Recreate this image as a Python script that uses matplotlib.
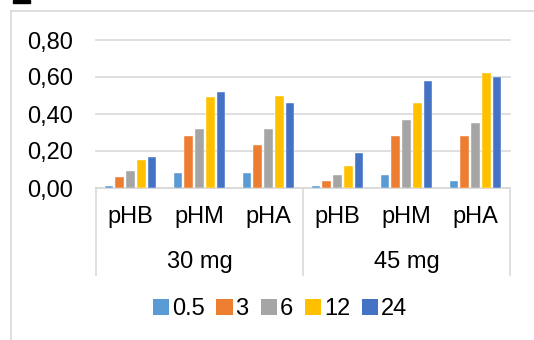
import matplotlib
matplotlib.use("Agg")
import matplotlib.pyplot as plt
import matplotlib.transforms as mtransforms
from matplotlib.patches import Rectangle
from matplotlib.lines import Line2D
import numpy as np

plt.rcParams['font.family'] = ['Liberation Sans', 'DejaVu Sans']

groups = ["30 mg", "45 mg"]
categories = ["pHB", "pHM", "pHA", "pHB", "pHM", "pHA"]
series_names = ["0.5", "3", "6", "12", "24"]
values = {
    "0.5": [0.01, 0.08, 0.08, 0.01, 0.07, 0.04],
    "3":   [0.06, 0.28, 0.23, 0.04, 0.28, 0.28],
    "6":   [0.09, 0.32, 0.32, 0.07, 0.37, 0.35],
    "12":  [0.15, 0.49, 0.50, 0.12, 0.46, 0.62],
    "24":  [0.17, 0.52, 0.46, 0.19, 0.58, 0.60],
}
colors = ["#5B9BD5", "#ED7D31", "#A5A5A5", "#FFC000", "#4472C4"]
yticks = [0.0, 0.2, 0.4, 0.6, 0.8]
ytick_labels = ["0,00", "0,20", "0,40", "0,60", "0,80"]

FS = 17
W, H = 534, 340
fig = plt.figure(figsize=(W / 100, H / 100), dpi=100)

# outer chart border and small black mark
fig.add_artist(Line2D([11 / W, 11 / W], [0, 1 - 11 / H], color="#D9D9D9", lw=1.2, transform=fig.transFigure))
fig.add_artist(Line2D([11 / W, 1], [1 - 11 / H, 1 - 11 / H], color="#D9D9D9", lw=1.2, transform=fig.transFigure))
fig.add_artist(Rectangle((13 / W, 1 - 3 / H), 17 / W, 3 / H, color="black", transform=fig.transFigure))

ax_left, ax_right, ax_top, ax_bottom = 96, 510, 40, 188
ax = fig.add_axes([ax_left / W, 1 - ax_bottom / H, (ax_right - ax_left) / W, (ax_bottom - ax_top) / H])

x = np.arange(len(categories))
slot = 0.155
bw = 0.125
for i, (name, c) in enumerate(zip(series_names, colors)):
    ax.bar(x + (i - 2) * slot, values[name], width=bw, color=c, label=name,
           edgecolor="white", linewidth=0.3, zorder=3)

ax.set_xlim(-0.5, len(categories) - 0.5)
ax.set_ylim(0, 0.8)
ax.set_yticks(yticks)
ax.set_yticklabels(ytick_labels)
ax.tick_params(axis="y", length=0, pad=16.5, labelsize=FS, colors="#000000")
ax.set_xticks([])
for s in ["top", "right", "left"]:
    ax.spines[s].set_visible(False)
ax.spines["bottom"].set_color("#D9D9D9")
ax.spines["bottom"].set_linewidth(1.2)
ax.yaxis.grid(True, color="#D9D9D9", lw=1.2, zorder=0)
ax.set_axisbelow(True)
for gl in ax.get_ygridlines():
    gl.set_clip_on(False)

trans = mtransforms.blended_transform_factory(ax.transData, ax.transAxes)
axh = ax_bottom - ax_top
cat_y = -(217 - ax_bottom) / axh
grp_y = -(262 - ax_bottom) / axh
box_bottom = -(275 - ax_bottom) / axh
for xi, lab in zip(x, categories):
    ax.text(xi, cat_y, lab, transform=trans, ha="center", va="center", fontsize=FS)
for gi, g in enumerate(groups):
    ax.text(gi * 3 + 1, grp_y, g, transform=trans, ha="center", va="center", fontsize=FS)
for bx in [-0.5, 2.5, 5.5]:
    ax.plot([bx, bx], [0, box_bottom], transform=trans, color="#D9D9D9", lw=1.2, clip_on=False)

leg = fig.legend(loc="center", bbox_to_anchor=(280 / W, 1 - 309 / H), ncol=5, frameon=False,
                 fontsize=FS, handlelength=0.68, handleheight=0.68, handletextpad=0.13,
                 columnspacing=0.5, borderpad=0)
for h in leg.legend_handles:
    h.set_linewidth(0)

fig.savefig("out.png", dpi=100)
